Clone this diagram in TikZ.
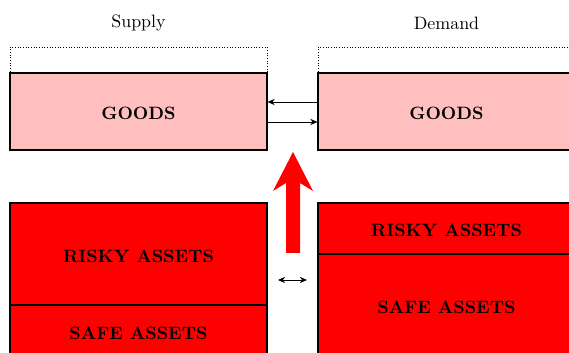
\documentclass[tikz,border=0pt]{standalone}
\usetikzlibrary{fit,arrows.meta}
\begin{document}
\begin{tikzpicture}[x=0.5587pt,y=-0.5587pt,
  box/.style={draw=black,line width=0.65pt,inner sep=0pt},
  goodsbox/.style={box,fill=red!25},
  assetbox/.style={box,fill=red},
  dotbox/.style={draw=black,densely dotted,line width=0.5pt,inner sep=0pt},
  boxlabel/.style={font=\bfseries,yshift=-1.1pt},
  flow/.style={line width=0.5pt,-{Stealth[length=4pt,width=3.5pt]}},
  title/.style={font=\normalsize}]
\useasboundingbox (0,0) rectangle (569,353);
% titles
\node[title] (supply) at (138.5,23) {Supply};
\node[title] (demand) at (446.5,23) {Demand};
% dotted boxes
\node[dotbox,fit={(10,47) (267,73)}] (sdot) {};
\node[dotbox,fit={(318,47) (575,73)}] (ddot) {};
% goods
\node[goodsbox,fit={(10,73) (267,150)},label={[boxlabel]center:GOODS}] (sgoods) {};
\node[goodsbox,fit={(318,73) (575,150)},label={[boxlabel]center:GOODS}] (dgoods) {};
% assets
\node[assetbox,fit={(10,203) (267,305)},label={[boxlabel]center:RISKY ASSETS}] (srisky) {};
\node[assetbox,fit={(10,305) (267,357)},label={[boxlabel]center:SAFE ASSETS}] (ssafe) {};
\node[assetbox,fit={(318,203) (575,254)},label={[boxlabel]center:RISKY ASSETS}] (drisky) {};
\node[assetbox,fit={(318,254) (575,357)},label={[boxlabel]center:SAFE ASSETS}] (dsafe) {};
% goods arrows
\draw[flow] (dgoods.west |- 0,102) -- (sgoods.east |- 0,102);
\draw[flow] (sgoods.east |- 0,122) -- (dgoods.west |- 0,122);
% asset double arrow
\coordinate (al) at (278,280);
\coordinate (ar) at (307,280);
\draw[line width=0.5pt,{Stealth[length=4pt,width=3.5pt]}-{Stealth[length=4pt,width=3.5pt]}] (al) -- (ar);
% big red arrow
\fill[red] (286,253) -- (286,183) -- (273,191) -- (293,152) -- (313,191) -- (300,183) -- (300,253) -- cycle;
\end{tikzpicture}
\end{document}
